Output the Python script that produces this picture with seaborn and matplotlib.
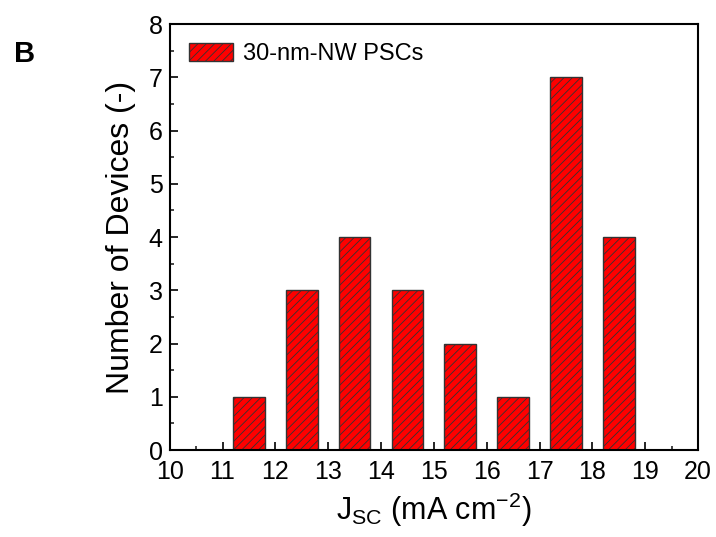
import matplotlib
matplotlib.use("Agg")
import matplotlib.pyplot as plt
import seaborn as sns
import pandas as pd
from matplotlib.ticker import MultipleLocator

jsc_centers = [11.5, 12.5, 13.5, 14.5, 15.5, 16.5, 17.5, 18.5]
device_counts = [1, 3, 4, 3, 2, 1, 7, 4]
series_label = "30-nm-NW PSCs"
x_ticks = [10, 11, 12, 13, 14, 15, 16, 17, 18, 19, 20]
y_ticks = [0, 1, 2, 3, 4, 5, 6, 7, 8]

sns.set_theme(style="white")
plt.rcParams['font.family'] = ['Liberation Sans', 'DejaVu Sans']
plt.rcParams['hatch.linewidth'] = 0.6
plt.rcParams['hatch.color'] = 'black'
plt.rcParams['text.color'] = 'black'
plt.rcParams['axes.labelcolor'] = 'black'

df = pd.DataFrame({"jsc": jsc_centers, "count": device_counts})

fig = plt.figure(figsize=(7.16, 5.37), dpi=100)
ax = fig.add_axes([0.237, 0.162, 0.738, 0.793])

sns.barplot(data=df, x="jsc", y="count", native_scale=True, width=0.6,
            color="#ff0000", saturation=1, edgecolor="#333333", linewidth=1.0,
            hatch="////", label=series_label, ax=ax)

ax.set_xlim(10, 20)
ax.set_ylim(0, 8)
ax.set_xticks(x_ticks)
ax.set_yticks(y_ticks)
ax.xaxis.set_minor_locator(MultipleLocator(0.5))
ax.yaxis.set_minor_locator(MultipleLocator(0.5))
ax.tick_params(axis='both', which='major', direction='in', length=6, width=1.2,
               labelsize=18, colors='black', bottom=True, left=True)
ax.tick_params(axis='x', which='major', pad=7)
ax.tick_params(axis='y', which='major', pad=5)
ax.tick_params(axis='both', which='minor', direction='in', length=3, width=1.2,
               bottom=True, left=True)
for s in ax.spines.values():
    s.set_color('black')
    s.set_linewidth(1.5)

ax.set_xlabel(r"J$_{\mathregular{SC}}$ (mA cm$^{\mathregular{-2}}$)", fontsize=22, labelpad=5)
ax.set_ylabel("Number of Devices (-)", fontsize=23, labelpad=9)

leg = ax.legend(loc='upper left', frameon=False, fontsize=17, handlelength=1.9,
                handleheight=0.8, borderaxespad=0.4, handletextpad=0.4)

fig.text(0.02, 0.9, "B", fontsize=21, fontweight='bold', ha='left', va='center',
         color='black')

fig.savefig("out.png", dpi=100)
